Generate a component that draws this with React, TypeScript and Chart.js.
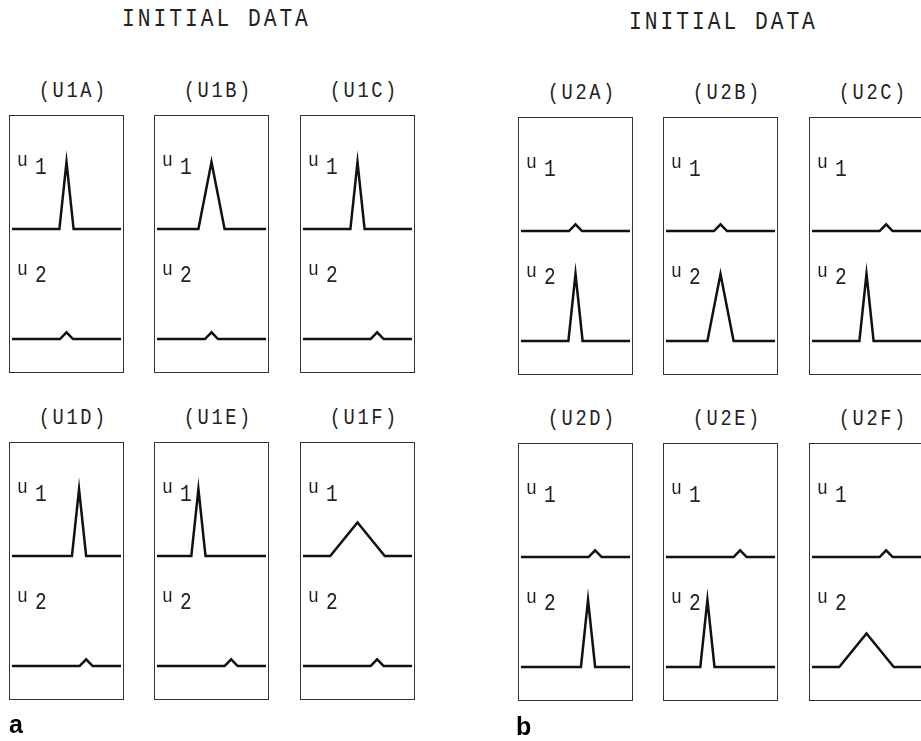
import React, { useEffect, useRef } from "react";
import { Chart, registerables } from "chart.js";

Chart.register(...registerables);

// ---- data (x from 0 to 1 across each panel, y = amplitude) ----
const panelNames = ["(U1A)", "(U1B)", "(U1C)", "(U1D)", "(U1E)", "(U1F)", "(U2A)", "(U2B)", "(U2C)", "(U2D)", "(U2E)", "(U2F)"];
const groupTitles = ["INITIAL DATA", "INITIAL DATA"];
const groupLetters = ["a", "b"];

type Pt = [number, number];

const U1A_u1: Pt[] = [[0, 0], [0.435, 0], [0.5, 1], [0.565, 0], [1, 0]];
const U1A_u2: Pt[] = [[0, 0], [0.44, 0], [0.5, 0.1], [0.56, 0], [1, 0]];
const U1B_u1: Pt[] = [[0, 0], [0.38, 0], [0.5, 1], [0.62, 0], [1, 0]];
const U1B_u2: Pt[] = [[0, 0], [0.44, 0], [0.5, 0.1], [0.56, 0], [1, 0]];
const U1C_u1: Pt[] = [[0, 0], [0.435, 0], [0.5, 1], [0.565, 0], [1, 0]];
const U1C_u2: Pt[] = [[0, 0], [0.62, 0], [0.68, 0.1], [0.74, 0], [1, 0]];
const U1D_u1: Pt[] = [[0, 0], [0.55, 0], [0.615, 1], [0.68, 0], [1, 0]];
const U1D_u2: Pt[] = [[0, 0], [0.62, 0], [0.68, 0.1], [0.74, 0], [1, 0]];
const U1E_u1: Pt[] = [[0, 0], [0.315, 0], [0.38, 1], [0.445, 0], [1, 0]];
const U1E_u2: Pt[] = [[0, 0], [0.62, 0], [0.68, 0.1], [0.74, 0], [1, 0]];
const U1F_u1: Pt[] = [[0, 0], [0.25, 0], [0.5, 0.5], [0.75, 0], [1, 0]];
const U1F_u2: Pt[] = [[0, 0], [0.62, 0], [0.68, 0.1], [0.74, 0], [1, 0]];

const U2A_u1: Pt[] = [[0, 0], [0.44, 0], [0.5, 0.1], [0.56, 0], [1, 0]];
const U2A_u2: Pt[] = [[0, 0], [0.435, 0], [0.5, 1], [0.565, 0], [1, 0]];
const U2B_u1: Pt[] = [[0, 0], [0.44, 0], [0.5, 0.1], [0.56, 0], [1, 0]];
const U2B_u2: Pt[] = [[0, 0], [0.38, 0], [0.5, 1], [0.62, 0], [1, 0]];
const U2C_u1: Pt[] = [[0, 0], [0.62, 0], [0.68, 0.1], [0.74, 0], [1, 0]];
const U2C_u2: Pt[] = [[0, 0], [0.435, 0], [0.5, 1], [0.565, 0], [1, 0]];
const U2D_u1: Pt[] = [[0, 0], [0.62, 0], [0.68, 0.1], [0.74, 0], [1, 0]];
const U2D_u2: Pt[] = [[0, 0], [0.55, 0], [0.615, 1], [0.68, 0], [1, 0]];
const U2E_u1: Pt[] = [[0, 0], [0.62, 0], [0.68, 0.1], [0.74, 0], [1, 0]];
const U2E_u2: Pt[] = [[0, 0], [0.315, 0], [0.38, 1], [0.445, 0], [1, 0]];
const U2F_u1: Pt[] = [[0, 0], [0.62, 0], [0.68, 0.1], [0.74, 0], [1, 0]];
const U2F_u2: Pt[] = [[0, 0], [0.25, 0], [0.5, 0.5], [0.75, 0], [1, 0]];

const u1Series = [U1A_u1, U1B_u1, U1C_u1, U1D_u1, U1E_u1, U1F_u1, U2A_u1, U2B_u1, U2C_u1, U2D_u1, U2E_u1, U2F_u1];
const u2Series = [U1A_u2, U1B_u2, U1C_u2, U1D_u2, U1E_u2, U1F_u2, U2A_u2, U2B_u2, U2C_u2, U2D_u2, U2E_u2, U2F_u2];

// ---- layout ----
const PANEL_W = 115;
const PANEL_H = 258;
const panelLeft = [9, 154, 300, 9, 154, 300, 518, 663, 809, 518, 663, 809];
const panelTop = [115, 115, 115, 442, 442, 442, 117, 117, 117, 443, 443, 443];

const MONO = "'Liberation Mono', monospace";
const SANS = "'Liberation Sans', Arial, sans-serif";
const INK = "#222";

function Txt(props: {
  x: number; y: number; text: string; fs: number; center?: boolean;
  family?: string; weight?: any; ls?: number; color?: string; sx?: number;
}) {
  const { x, y, text, fs, center, family = MONO, weight = "normal", ls = 0, color = INK, sx = 1 } = props;
  const base = family === MONO ? 0.7665 : 0.8465;
  const top = y - base * fs;
  return (
    <div
      style={{
        position: "absolute",
        left: x,
        top,
        fontFamily: family,
        fontSize: fs,
        lineHeight: `${fs}px`,
        fontWeight: weight,
        letterSpacing: ls,
        paddingLeft: center ? ls : 0,
        color,
        whiteSpace: "nowrap",
        transform: `${center ? "translateX(-50%) " : ""}scaleX(${sx})`,
        transformOrigin: center ? "50% 50%" : "0 50%",
      }}
    >
      {text}
    </div>
  );
}

function Panel({ idx }: { idx: number }) {
  const ref = useRef<HTMLCanvasElement | null>(null);
  useEffect(() => {
    const cv = ref.current;
    if (!cv) return;
    const mk = (pts: Pt[], axis: string) => ({
      data: pts.map(([x, y]) => ({ x, y })),
      yAxisID: axis,
      borderColor: "#111",
      borderWidth: 2.5,
      pointRadius: 0,
      tension: 0,
      fill: false,
      borderJoinStyle: "miter" as const,
    });
    const chart = new Chart(cv, {
      type: "line",
      data: { datasets: [mk(u1Series[idx], "y1"), mk(u2Series[idx], "y2")] as any },
      options: {
        animation: false,
        responsive: false,
        events: [],
        layout: { padding: 0 },
        plugins: { legend: { display: false }, tooltip: { enabled: false }, title: { display: false } },
        scales: {
          x: { type: "linear", min: -0.018, max: 1.018, display: false },
          y1: { type: "linear", min: -2.134, max: 1.687, display: false },
          y2: { type: "linear", min: -0.4925, max: 3.328, display: false },
        },
      },
    });
    return () => chart.destroy();
  }, [idx]);

  const left = panelLeft[idx];
  const top = panelTop[idx];
  return (
    <>
      <Txt x={left + PANEL_W / 2 + 5} y={top - 17} text={panelNames[idx]} fs={22} center ls={3} sx={0.85} />
      <div
        style={{
          position: "absolute",
          left,
          top,
          width: PANEL_W,
          height: PANEL_H,
          border: "1px solid #333",
          boxSizing: "border-box",
        }}
      >
        <canvas ref={ref} width={PANEL_W - 2} height={PANEL_H - 2} style={{ display: "block" }} />
        <Txt x={7} y={50} text="u" fs={20} sx={0.9} />
        <Txt x={25} y={59} text="1" fs={23} sx={0.85} />
        <Txt x={7} y={159} text="u" fs={20} sx={0.9} />
        <Txt x={25} y={167} text="2" fs={23} sx={0.85} />
      </div>
    </>
  );
}

export default function App() {
  return (
    <div
      style={{
        position: "fixed",
        left: 0,
        top: 0,
        width: 921,
        height: 741,
        overflow: "hidden",
        background: "#fff",
      }}
    >
      <Txt x={215} y={26} text={groupTitles[0]} fs={25} center ls={3.5} sx={0.85} />
      <Txt x={722} y={29} text={groupTitles[1]} fs={25} center ls={3.5} sx={0.85} />
      {panelNames.map((_, i) => (
        <Panel key={i} idx={i} />
      ))}
      <Txt x={9} y={733} text={groupLetters[0]} fs={25} family={SANS} weight="bold" color="#000" />
      <Txt x={516} y={735} text={groupLetters[1]} fs={25} family={SANS} weight="bold" color="#000" />
    </div>
  );
}
